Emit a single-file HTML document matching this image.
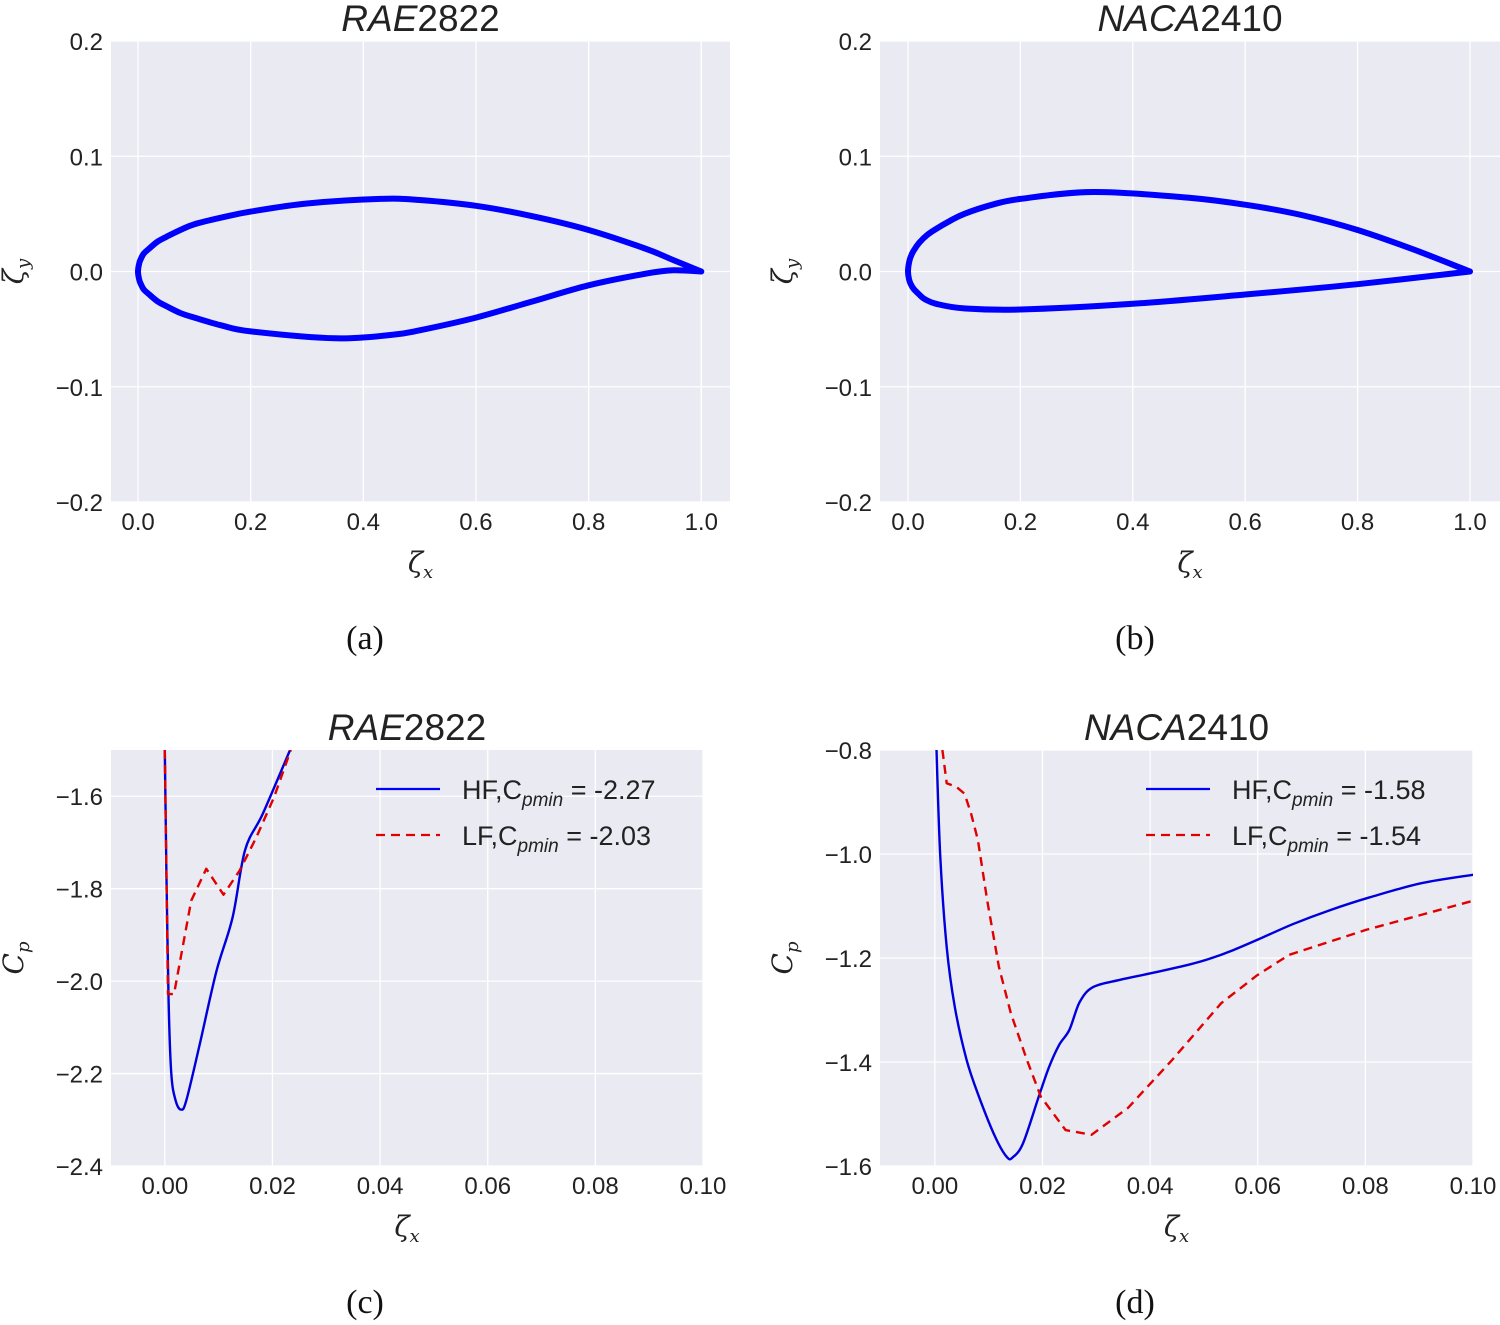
<!DOCTYPE html>
<html><head><meta charset="utf-8"><style>
html,body{margin:0;padding:0;background:#fff}
svg{display:block;font-family:"Liberation Sans",sans-serif}
</style></head><body>
<svg id="fig" width="1500" height="1325" viewBox="0 0 1500 1325"></svg>
<script>
// ---- data ----
const rae_upper_x=[0,0.002,0.005,0.01,0.02,0.035,0.05,0.075,0.1,0.15,0.2,0.3,0.43,0.5,0.6,0.7,0.8,0.9,0.95,1.0];
const rae_upper_y=[0,0.007,0.011,0.0155,0.02,0.026,0.03,0.036,0.041,0.047,0.052,0.059,0.063,0.062,0.057,0.048,0.036,0.020,0.010,0.0];
const rae_lower_x=[0,0.002,0.005,0.01,0.02,0.035,0.05,0.075,0.1,0.15,0.2,0.35,0.45,0.5,0.6,0.7,0.8,0.9,0.95,1.0];
const rae_lower_y=[0,-0.007,-0.011,-0.0155,-0.02,-0.026,-0.03,-0.036,-0.04,-0.047,-0.052,-0.058,-0.055,-0.051,-0.04,-0.026,-0.012,-0.002,0.001,0.0];
const naca_upper_x=[0,0.002,0.005,0.01,0.02,0.035,0.05,0.075,0.1,0.15,0.2,0.33,0.5,0.6,0.7,0.8,0.9,1.0];
const naca_upper_y=[0,0.008,0.013,0.018,0.025,0.032,0.037,0.044,0.05,0.058,0.063,0.069,0.064,0.058,0.049,0.036,0.019,0.0];
const naca_lower_x=[0,0.002,0.005,0.01,0.02,0.03,0.05,0.1,0.2,0.4,0.6,0.8,1.0];
const naca_lower_y=[0,-0.007,-0.011,-0.015,-0.02,-0.024,-0.028,-0.032,-0.033,-0.028,-0.020,-0.011,0.0];
const c_hf_x=[0,0.0003,0.0007,0.0012,0.0020,0.0030,0.0040,0.0065,0.0096,0.0126,0.0149,0.0182,0.0232];
const c_hf_y=[-1.5,-1.767,-2.043,-2.2,-2.258,-2.278,-2.258,-2.136,-1.978,-1.862,-1.717,-1.638,-1.502];
const c_lf_x=[0,0.0006,0.0017,0.0049,0.0077,0.0109,0.0139,0.0170,0.0203,0.0234];
const c_lf_y=[-1.5,-2.028,-2.028,-1.826,-1.757,-1.813,-1.761,-1.689,-1.602,-1.5];
const d_hf_x=[0.0003,0.0010,0.0022,0.0037,0.0059,0.0082,0.0112,0.0134,0.0145,0.0164,0.0193,0.0212,0.0231,0.0250,0.0269,0.0294,0.0344,0.0403,0.0471,0.0509,0.0554,0.0606,0.0665,0.0734,0.0809,0.0905,0.1];
const d_hf_y=[-0.8,-1.006,-1.179,-1.294,-1.396,-1.467,-1.544,-1.583,-1.583,-1.556,-1.467,-1.410,-1.367,-1.338,-1.285,-1.256,-1.242,-1.229,-1.213,-1.202,-1.185,-1.162,-1.135,-1.108,-1.083,-1.056,-1.040];
const d_lf_x=[0.0014,0.0022,0.0040,0.0055,0.0067,0.0080,0.0097,0.0119,0.0141,0.0171,0.0197,0.0243,0.0291,0.0359,0.0441,0.0532,0.0599,0.0658,0.0801,0.1];
const d_lf_y=[-0.8,-0.864,-0.871,-0.884,-0.921,-0.973,-1.088,-1.217,-1.306,-1.396,-1.467,-1.531,-1.540,-1.488,-1.396,-1.287,-1.233,-1.194,-1.146,-1.090];
const xt_a=[0,0.2,0.4,0.6,0.8,1.0], xl_a=["0.0","0.2","0.4","0.6","0.8","1.0"];
const yt_a=[0.2,0.1,0,-0.1,-0.2], yl_a=["0.2","0.1","0.0","\u22120.1","\u22120.2"];
const xt_c=[0,0.02,0.04,0.06,0.08,0.10], xl_c=["0.00","0.02","0.04","0.06","0.08","0.10"];
const yt_c=[-1.6,-1.8,-2.0,-2.2,-2.4], yl_c=["\u22121.6","\u22121.8","\u22122.0","\u22122.2","\u22122.4"];
const yt_d=[-0.8,-1.0,-1.2,-1.4,-1.6], yl_d=["\u22120.8","\u22121.0","\u22121.2","\u22121.4","\u22121.6"];

const NS="http://www.w3.org/2000/svg";
const svg=document.getElementById('fig');
function mk(tag,attrs,parent,text){const e=document.createElementNS(NS,tag);for(const k in attrs)e.setAttribute(k,attrs[k]);if(text!==undefined)e.textContent=text;(parent||svg).appendChild(e);return e;}

function smoothPath(pts){
  let d='M'+pts[0][0].toFixed(1)+','+pts[0][1].toFixed(1);
  for(let i=0;i<pts.length-1;i++){
    const p0=pts[Math.max(0,i-1)],p1=pts[i],p2=pts[i+1],p3=pts[Math.min(pts.length-1,i+2)];
    const c1=[p1[0]+(p2[0]-p0[0])/6,p1[1]+(p2[1]-p0[1])/6];
    const c2=[p2[0]-(p3[0]-p1[0])/6,p2[1]-(p3[1]-p1[1])/6];
    d+='C'+c1[0].toFixed(1)+','+c1[1].toFixed(1)+' '+c2[0].toFixed(1)+','+c2[1].toFixed(1)+' '+p2[0].toFixed(1)+','+p2[1].toFixed(1);
  }
  return d;
}

function panel(p){
  const g=mk('g',{});
  
  
  const sx=v=>p.L+(v-p.x0)/(p.x1-p.x0)*(p.R-p.L);
  const sy=v=>p.T+(p.y1-v)/(p.y1-p.y0)*(p.B-p.T);
  const bg=mk('rect',{x:p.L,y:p.T,width:p.R-p.L,height:p.B-p.T,fill:'#EAEAF2'},g);
  
  
  p.xt.forEach((t,i)=>{
    mk('line',{x1:sx(t),x2:sx(t),y1:p.T,y2:p.B,stroke:'#fff','stroke-width':1.3},g);
    const tx=mk('text',{x:sx(t),y:p.B+28,'font-size':24,'text-anchor':'middle',fill:'#222'},g,p.xl[i]);
    
    
  });
  p.yt.forEach((t,i)=>{
    mk('line',{x1:p.L,x2:p.R,y1:sy(t),y2:sy(t),stroke:'#fff','stroke-width':1.3},g);
    const ty=mk('text',{x:p.L-8,y:sy(t)+9,'font-size':24,'text-anchor':'end',fill:'#222'},g,p.yl[i]);
    
    
  });
  const cx=(p.L+p.R)/2;
  const title=mk('text',{x:cx,y:p.T-10,'font-size':37,'text-anchor':'middle',fill:'#222'},g);
  
  
  mk('tspan',{'font-style':'italic'},title,p.t1);
  mk('tspan',{},title,p.t2);
  const xl=mk('text',{x:cx,y:p.B+70,'font-size':28,'font-style':'italic','text-anchor':'middle',fill:'#222',
    'font-family':'"DejaVu Serif",serif'},g);
  
  
  mk('tspan',{},xl,'\u03b6');mk('tspan',{'font-size':18,dy:6},xl,'x');
  const ly=(p.T+p.B)/2, lx=p.L-p.ylOff;
  const yl=mk('text',{x:lx,y:ly,'font-size':28,'font-style':'italic','text-anchor':'middle',fill:'#222',
    transform:`rotate(-90 ${lx} ${ly})`,'font-family':'"DejaVu Serif",serif'},g);
  
  
  mk('tspan',{},yl,p.ylab);mk('tspan',{'font-size':18,dy:6},yl,p.ysub);
  const cap=mk('text',{x:p.capX,y:p.B+147,'font-size':34,'text-anchor':'middle',fill:'#111','font-family':'"Liberation Serif",serif'},g,p.cap);
  
  
  const clipId='clip'+p.name;
  const cp=mk('clipPath',{id:clipId},g);mk('rect',{x:p.L,y:p.T,width:p.R-p.L,height:p.B-p.T},cp);
  p.series.forEach(s=>{
    const pts=s.xs.map((x,i)=>[sx(x),sy(s.ys[i])]);
    let d;
    if(s.smooth)d=smoothPath(pts);
    else{d='';pts.forEach((q,i)=>{d+=(i?'L':'M')+q[0].toFixed(1)+','+q[1].toFixed(1);});}
    const path=mk('path',{d:d,fill:'none',stroke:s.c,'stroke-width':s.w,'stroke-linejoin':'round','stroke-linecap':s.dash?'butt':'round','clip-path':`url(#${clipId})`},g);
    if(s.dash)path.setAttribute('stroke-dasharray',s.dash);
    
    
  });
  if(p.legend){
    p.legend.forEach((e,i)=>{
      const y=p.legY+i*46;
      const ln=mk('line',{x1:p.legX,x2:p.legX+64,y1:y,y2:y,stroke:e.c,'stroke-width':2.2},g);
      if(e.dash)ln.setAttribute('stroke-dasharray',e.dash);
      const t=mk('text',{x:p.legX+86,y:y+10,'font-size':27,fill:'#222'},g);
      
      
      mk('tspan',{},t,e.a+',C');
      mk('tspan',{'font-size':19,'font-style':'italic',dy:7},t,'pmin');
      mk('tspan',{dy:-7},t,' = '+e.v);
    });
  }
}
function join(ux,uy,lx,ly){return {xs:ux.slice().reverse().concat(lx.slice(1)),ys:uy.slice().reverse().concat(ly.slice(1))};}
const ra=join(rae_upper_x,rae_upper_y,rae_lower_x,rae_lower_y);
const na=join(naca_upper_x,naca_upper_y,naca_lower_x,naca_lower_y);
panel({name:'panel-a',L:111,R:730,T:41,B:502,x0:-0.048,x1:1.051,y0:-0.2,y1:0.2,xt:xt_a,xl:xl_a,yt:yt_a,yl:yl_a,
  t1:'RAE',t2:'2822',ylab:'\u03b6',ysub:'y',ylOff:88,cap:'(a)',capX:365,
  series:[{xs:ra.xs,ys:ra.ys,c:'#0000FF',w:6,name:'rae2822-profile',smooth:true}]});
panel({name:'panel-b',L:880,R:1500,T:41,B:502,x0:-0.0498,x1:1.0534,y0:-0.2,y1:0.2,xt:xt_a,xl:xl_a,yt:yt_a,yl:yl_a,
  t1:'NACA',t2:'2410',ylab:'\u03b6',ysub:'y',ylOff:88,cap:'(b)',capX:1135,
  series:[{xs:na.xs,ys:na.ys,c:'#0000FF',w:6,name:'naca2410-profile',smooth:true}]});
panel({name:'panel-c',L:111,R:703,T:750,B:1166,x0:-0.01,x1:0.1,y0:-2.4,y1:-1.5,xt:xt_c,xl:xl_c,yt:yt_c,yl:yl_c,
  t1:'RAE',t2:'2822',ylab:'C',ysub:'p',ylOff:88,cap:'(c)',capX:365,legX:376,legY:789,
  legend:[{a:'HF',v:'-2.27',c:'#0000FF'},{a:'LF',v:'-2.03',c:'#E00000',dash:'9,6'}],
  series:[{xs:c_hf_x,ys:c_hf_y,c:'#0000DD',w:2.4,name:'hf-cp-line',smooth:true},{xs:c_lf_x,ys:c_lf_y,c:'#E00000',w:2.4,dash:'9,6',name:'lf-cp-line'}]});
panel({name:'panel-d',L:880,R:1473,T:750,B:1166,x0:-0.0102,x1:0.1,y0:-1.6,y1:-0.8,xt:xt_c,xl:xl_c,yt:yt_d,yl:yl_d,
  t1:'NACA',t2:'2410',ylab:'C',ysub:'p',ylOff:88,cap:'(d)',capX:1135,legX:1146,legY:789,
  legend:[{a:'HF',v:'-1.58',c:'#0000FF'},{a:'LF',v:'-1.54',c:'#E00000',dash:'9,6'}],
  series:[{xs:d_hf_x,ys:d_hf_y,c:'#0000DD',w:2.4,name:'hf-cp-line',smooth:true},{xs:d_lf_x,ys:d_lf_y,c:'#E00000',w:2.4,dash:'9,6',name:'lf-cp-line'}]});
</script>
</body></html>
